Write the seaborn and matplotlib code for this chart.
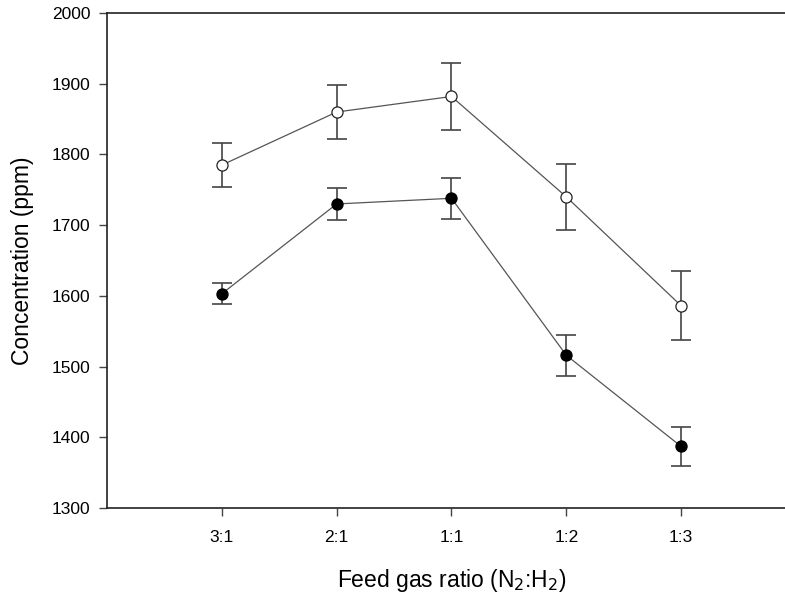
import matplotlib
matplotlib.use("Agg")
import matplotlib.pyplot as plt
import seaborn as sns
import numpy as np
import pandas as pd

ratios = ["3:1", "2:1", "1:1", "1:2", "1:3"]
open_vals = [1785, 1860, 1882, 1740, 1586]
open_err = [31, 38, 48, 47, 49]
filled_vals = [1603, 1730, 1738, 1516, 1387]
filled_err = [15, 22, 29, 29, 28]

sns.set_theme(style="ticks")
plt.rcParams["font.family"] = ["Liberation Sans", "DejaVu Sans"]
plt.rcParams["text.color"] = "black"
plt.rcParams["axes.labelcolor"] = "black"
plt.rcParams["xtick.labelcolor"] = "black"
plt.rcParams["ytick.labelcolor"] = "black"

pos = np.arange(1, len(ratios) + 1)
df = pd.DataFrame({
    "pos": np.concatenate([pos, pos]),
    "value": open_vals + filled_vals,
    "series": ["open"] * len(pos) + ["filled"] * len(pos),
})

fig = plt.figure(figsize=(7.85, 5.95), dpi=100)
ax = fig.add_axes([0.1363, 0.1462, 0.8777, 0.8319])

sns.lineplot(data=df, x="pos", y="value", units="series", estimator=None,
             color="#555555", linewidth=0.9, ax=ax, legend=False, zorder=2)

for vals, err in [(open_vals, open_err), (filled_vals, filled_err)]:
    ax.errorbar(pos, vals, yerr=err, fmt="none", ecolor="#444444",
                elinewidth=1.2, capsize=7, capthick=1.2, zorder=3)

ax.plot(pos, open_vals, "o", ms=8, mfc="white", mec="#222222", mew=0.9,
        linestyle="none", zorder=4)
ax.plot(pos, filled_vals, "o", ms=8, mfc="black", mec="black", mew=0.9,
        linestyle="none", zorder=4)

ax.set_xlim(0, 6)
ax.set_ylim(1300, 2000)
ax.set_xticks(pos)
ax.set_xticklabels(ratios)
ax.set_yticks(np.arange(1300, 2001, 100))
ax.tick_params(axis="both", direction="out", length=6, width=1.0,
               color="#444444", labelsize=12.5, pad=6)
ax.tick_params(axis="x", pad=10)
for s in ax.spines.values():
    s.set_color("#222222")
    s.set_linewidth(1.2)

ax.set_ylabel("Concentration (ppm)", fontsize=16.5, labelpad=13)
ax.set_xlabel("Feed gas ratio (N$_2$:H$_2$)", fontsize=16.5, labelpad=16)

fig.savefig("out.png", dpi=100)
